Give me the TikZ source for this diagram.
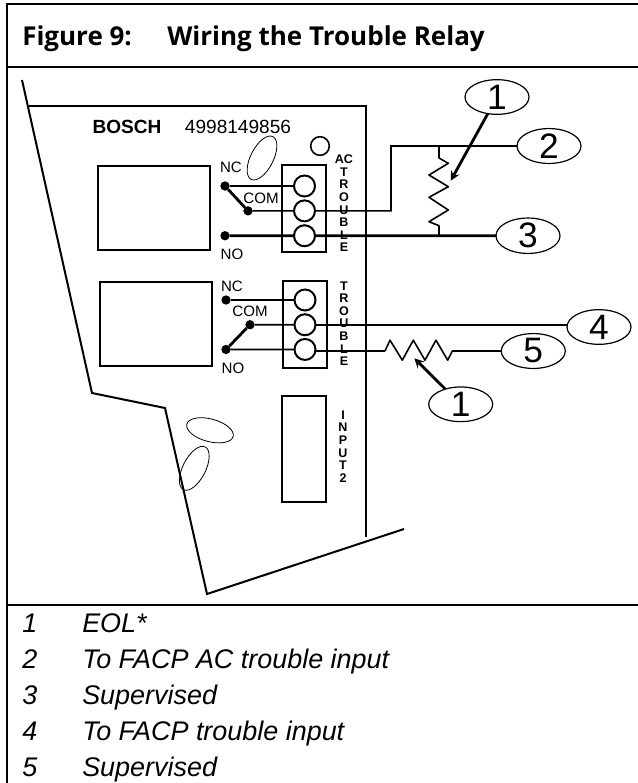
\documentclass[tikz,border=0pt]{standalone}
\usepackage{fontspec}
\setmainfont{Liberation Sans}
\newfontfamily\titlefont{Open Sans}
\usepackage{tikz}
\usetikzlibrary{arrows,positioning,shapes.geometric}
\tikzset{
    >=stealth,
    frame line/.style={line width=1.5pt},
    board line/.style={line width=1.5pt},
    thin wire/.style={line width=1.2pt},
    thick wire/.style={line width=2.1pt},
    title text/.style={anchor=base west,inner sep=0pt,font=\titlefont\bfseries\fontsize{19.5}{20}\selectfont},
    legend text/.style={anchor=base west,inner sep=0pt,font=\itshape\fontsize{20.2}{21}\selectfont},
    small text/.style={inner sep=0pt,font=\fontsize{11.3}{12}\selectfont},
    brand text/.style={inner sep=0pt,font=\fontsize{14.3}{15}\selectfont},
    side text/.style={inner sep=0pt,align=center,font=\bfseries\fontsize{9.4}{9.45}\selectfont},
    block box/.style={rectangle,draw,line width=1.5pt,inner sep=0pt,minimum width=33pt,minimum height=65pt},
    relay box/.style={rectangle,draw,line width=1.5pt,inner sep=0pt,minimum width=84pt,minimum height=63pt},
    screw world/.style={circle,draw,fill=white,line width=1.5pt,inner sep=0pt,outer sep=0pt,minimum size=15.75pt},
    contact dot/.style={circle,fill=black,inner sep=0pt,outer sep=0pt,minimum size=7pt},
    callout world/.style={ellipse,draw,fill=white,line width=0.9pt,inner sep=0pt,outer sep=0pt,minimum width=48pt,minimum height=26pt,font=\fontsize{26.5}{27}\selectfont},
    hole world/.style={ellipse,draw,line width=0.6pt,inner sep=0pt,minimum width=36pt,minimum height=17pt}
}

\begin{document}
\begin{tikzpicture}[x=0.75pt,y=-0.75pt]
    \useasboundingbox (0,0) rectangle (638,783);
    % table
    \coordinate (tl) at (6.5,4);
    \coordinate (tr) at (638,4);
    \coordinate (bl) at (6.5,783);
    \coordinate (ml) at (6.5,67);
    \coordinate (mr) at (638,67);
    \coordinate (ll) at (6.5,604.5);
    \coordinate (lr) at (638,604.5);
    \draw[frame line] (tr) -- (tl) -- (bl);
    \draw[frame line] (ml) -- (mr);
    \draw[frame line] (ll) -- (lr);
    \node[title text] (fig) at (22,45.7) {Figure 9:};
    \node[title text] (figname) at (167,45.7) {Wiring the Trouble Relay};
    % holes
    \node[hole world,rotate=63] (hole1) at (262,158) {};
    \node[hole world,rotate=-15] (hole2) at (210,430.3) {};
    \node[hole world,rotate=63] (hole3) at (194.3,468.3) {};
    \node[circle,draw,line width=1.2pt,inner sep=0pt,minimum size=14pt] (hole4) at (320,146) {};
    % board
    \coordinate (b1) at (22,80);
    \coordinate (b2) at (92,393);
    \coordinate (b3) at (165,408);
    \coordinate (b4) at (207,594);
    \coordinate (b5) at (404,529);
    \coordinate (b6) at (28.5,106);
    \coordinate (b7) at (366,106);
    \coordinate (b8) at (366,537);
    \draw[board line] (b1) -- (b2) -- (b3) -- (b4) -- (b5);
    \draw[thin wire] (b6) -- (b7) -- (b8);
    \node[brand text] (brand) at (127,127) {\bfseries BOSCH};
    \node[brand text] (partno) at (238,127) {4998149856};
    % relays and blocks
    \node[relay box] (relay1) at (154,208) {};
    \node[relay box] (relay2) at (156,324) {};
    \node[relay box,minimum width=33pt,minimum height=80pt] (input2) at (304,449) {};
    \node[block box] (block1) at (304,208.5) {};
    \node[block box] (block2) at (305,324.5) {};
    \node[side text] (ac) at (344,203.5) {AC\\T\\R\\O\\U\\B\\L\\E};
    \node[side text] (tr2) at (344,323.5) {T\\R\\O\\U\\B\\L\\E};
    \node[side text] (in2) at (343,446.5) {I\\N\\P\\U\\T\\2};
    % terminals
    \node[screw world] (s1) at (304.5,186) {};
    \node[screw world] (s2) [below = 2.9pt of s1] {};
    \node[screw world] (s3) [below = 2.9pt of s2] {};
    \node[screw world] (s4) at (305,300) {};
    \node[screw world] (s5) [below = 2.8pt of s4] {};
    \node[screw world] (s6) [below = 2.8pt of s5] {};
    \node[contact dot] (nc1) at (225,186) {};
    \node[contact dot] (com1) at (248,210.87) {};
    \node[contact dot] (no1) at (225,235.73) {};
    \node[contact dot] (nc2) at (226,300) {};
    \node[contact dot] (com2) at (250,324.73) {};
    \node[contact dot] (no2) at (226,349.47) {};
    \node[small text] (nclabel1) at (231,167) {NC};
    \node[small text] (comlabel1) at (261,198) {COM};
    \node[small text] (nolabel1) at (232,254) {NO};
    \node[small text] (nclabel2) at (232,286) {NC};
    \node[small text] (comlabel2) at (250,311) {COM};
    \node[small text] (nolabel2) at (233,368) {NO};
    % callouts
    \node[callout world] (c1) at (497,97) {1};
    \node[callout world] (c2) at (549,146) {2};
    \node[callout world] (c3) at (528,235.73) {3};
    \node[callout world] (c4) at (599,327) {4};
    \node[callout world] (c5) at (533.3,351) {5};
    \node[callout world] (c6) at (460.7,404.3) {1};
    \coordinate (j1) at (391,210.87);
    \coordinate (j2) at (391,146);
    \coordinate (r1) at (439,146);
    \coordinate (r2) at (439,235.73);
    \coordinate (r3) at (385,351);
    \coordinate (r4) at (452.3,351);
    \coordinate (tip1) at (450.7,180.7);
    \coordinate (tip2) at (414.3,358.3);
    \path[]
        (nc1) edge [thin wire] (s1)
        (com1) edge [thin wire] (s2)
        (no1) edge [thick wire] (s3)
        (nc1) edge [thick wire] (com1)
        (nc2) edge [thin wire] (s4)
        (com2) edge [thin wire] (s5)
        (no2) edge [thin wire] (s6)
        (no2) edge [thick wire] (com2)
        (s3) edge [thick wire] (c3)
        (s5.east) edge [thin wire] (s5.east -| c4.west)
        (r3 -| s6.east) edge [thick wire] (r3)
        (r4) edge [thick wire] (c5)
        (c1) edge [->,thick wire] (tip1)
        (c6) edge [->,thick wire] (tip2)
        ;
    \draw[thin wire] (s2) -- (j1) -- (j2) -- (c2);
    % resistors
    \draw[thin wire,line join=round] (r1) -- ++(0,12) -- ++(9.3,5.3) -- ++(-19.3,11.7) -- ++(19.3,11.7)
        -- ++(-19.3,10.6) -- ++(19.3,12.7) -- ++(-19.3,11.7) -- ++(10,4) -- (r2);
    \draw[thin wire,line join=round] (r3) -- ++(5,-10.8) -- ++(12.3,20) -- ++(11,-20) -- ++(11.7,20)
        -- ++(11,-20) -- ++(11.7,20) -- (r4);
    % legend
    \node[legend text] (n1) at (22,632.7) {1};
    \node[legend text] (n2) at (22,668.7) {2};
    \node[legend text] (n3) at (22,704.7) {3};
    \node[legend text] (n4) at (22,740.7) {4};
    \node[legend text] (n5) at (22,776.7) {5};
    \node[legend text] (l1) at (82,632.7) {EOL*};
    \node[legend text] (l2) at (82,668.7) {To FACP AC trouble input};
    \node[legend text] (l3) at (82,704.7) {Supervised};
    \node[legend text] (l4) at (82,740.7) {To FACP trouble input};
    \node[legend text] (l5) at (82,776.7) {Supervised};
\end{tikzpicture}
\end{document}
